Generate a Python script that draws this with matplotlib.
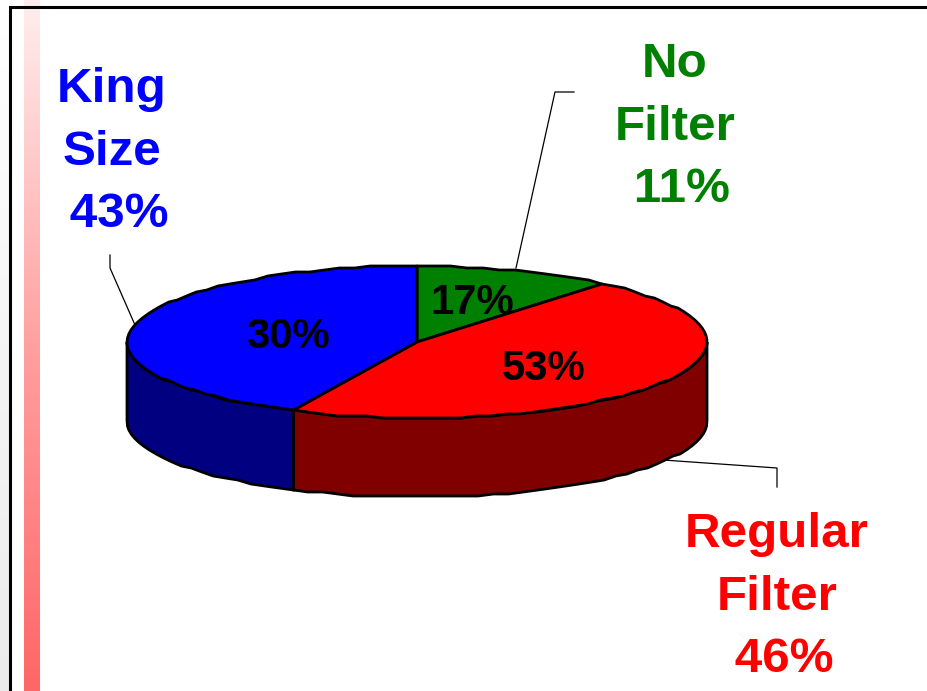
import numpy as np
import matplotlib
matplotlib.use('Agg')
import matplotlib.pyplot as plt
from matplotlib.colors import LinearSegmentedColormap
from matplotlib.patches import Polygon

# slice order runs clockwise from 12 o'clock
names = ['No\nFilter', 'Regular\nFilter', 'King\nSize']
shares = [11, 46, 43]
inner_labels = ['17%', '53%', '30%']
top_colors = ['#008000', '#ff0000', '#0000ff']
side_colors = ['#004000', '#800000', '#000080']

W, H = 927, 691
cx, cy, rx, ry, depth = 417, 342, 290, 76, 79

plt.rcParams['font.family'] = ['Liberation Sans', 'DejaVu Sans']

fig = plt.figure(figsize=(W / 100, H / 100), dpi=100)
ax = fig.add_axes([0, 0, 1, 1])
ax.set_xlim(0, W)
ax.set_ylim(H, 0)
ax.axis('off')


def rim(a, b, drop=0):
    # pie edge as short straight pieces, y snapped so it wobbles a little
    t = np.radians(np.linspace(a, b, max(int(abs(b - a) / 3), 2)))
    x = cx + rx * np.sin(t)
    y = cy - ry * np.cos(t) + drop
    return np.column_stack([x, np.round(y / 2) * 2])


# slide background, frame and the pink bar
grey = LinearSegmentedColormap.from_list('g', ['#ffffff', '#ebebeb'])
pink = LinearSegmentedColormap.from_list('p', ['#ffeeee', '#ffa0a0', '#ff6666'])
grad = np.linspace(0, 1, 256).reshape(-1, 1)
ax.imshow(grad, cmap=grey, extent=(0, 9, H, 0), aspect='auto', zorder=0)
ax.imshow(grad, cmap=pink, extent=(24, 40, H, 0), aspect='auto', zorder=1)
ax.plot([10, 10, W], [H, 6.5, 6.5], color='black', lw=2.2, solid_joinstyle='miter', zorder=2)
ax.set_xlim(0, W)
ax.set_ylim(H, 0)

# leader lines
ax.plot([574, 555, 516], [92, 92, 268], color='black', lw=0.9, zorder=3)
ax.plot([110, 110, 135], [255, 268, 325], color='black', lw=0.9, zorder=3)
ax.plot([777, 777, 663], [487, 468, 460], color='black', lw=0.9, zorder=3)

edges = np.cumsum([0] + shares) * 3.6

# outer wall, only the front half of the pie shows
for i in range(len(shares)):
    a, b = max(edges[i], 90), min(edges[i + 1], 270)
    if a >= b:
        continue
    wall = np.vstack([rim(a, b), rim(b, a, depth)])
    ax.add_patch(Polygon(wall, closed=True, fc=side_colors[i], ec='black', lw=2, zorder=4))

# top faces; the 17% text sits under the red slice
for i in range(len(shares)):
    face = np.vstack([[cx, cy], rim(edges[i], edges[i + 1])])
    z = 5 if i == 0 else 7
    ax.add_patch(Polygon(face, closed=True, fc=top_colors[i], ec='black', lw=2,
                         joinstyle='round', zorder=z))

ax.text(472, 302.5, inner_labels[0], fontsize=30.2, fontweight='bold', ha='center', va='center', zorder=6)
ax.text(544, 368.5, inner_labels[1], fontsize=30.2, fontweight='bold', ha='center', va='center', zorder=8)
ax.text(288, 336.5, inner_labels[2], fontsize=30.2, fontweight='bold', ha='center', va='center', zorder=8)

# outer labels
label_pos = [(675, 127), (777, 597), (112, 152)]
for i in range(len(shares)):
    txt = names[i] + '\n %d%%' % shares[i]
    ax.text(label_pos[i][0], label_pos[i][1], txt, color=top_colors[i], fontsize=35.6,
            fontweight='bold', ha='center', va='center', linespacing=1.5, zorder=9)

plt.savefig('out.png', dpi=100)
